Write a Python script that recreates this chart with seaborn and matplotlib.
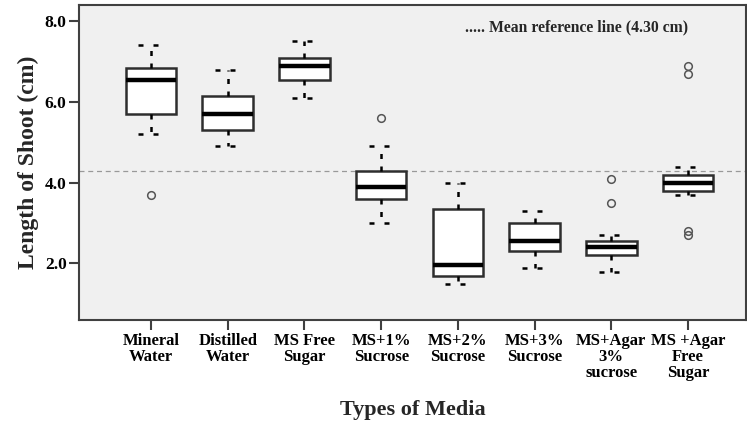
import matplotlib
matplotlib.use("Agg")
import matplotlib.pyplot as plt
import seaborn as sns

# ---- data ----
media = ["Mineral\nWater", "Distilled\nWater", "MS Free\nSugar", "MS+1%\nSucrose",
         "MS+2%\nSucrose", "MS+3%\nSucrose", "MS+Agar\n3%\nsucrose", "MS +Agar\nFree\nSugar"]
whisker_low = [5.2, 4.9, 6.1, 3.0, 1.5, 1.9, 1.8, 3.7]
q1 = [5.7, 5.3, 6.55, 3.6, 1.7, 2.3, 2.2, 3.8]
median = [6.55, 5.7, 6.9, 3.9, 1.95, 2.55, 2.4, 4.0]
q3 = [6.85, 6.15, 7.1, 4.3, 3.35, 3.0, 2.55, 4.2]
whisker_high = [7.4, 6.8, 7.5, 4.9, 4.0, 3.3, 2.7, 4.4]
outliers = [[3.7], [], [], [5.6], [], [], [3.5, 4.1], [2.7, 2.8, 6.7, 6.9]]
mean_ref = 4.30
y_ticks = [2.0, 4.0, 6.0, 8.0]

sns.set_theme(style="ticks")
plt.rcParams["font.family"] = ["Liberation Serif", "DejaVu Serif"]
plt.rcParams["font.weight"] = "bold"

fig = plt.figure(figsize=(7.47, 4.23), dpi=100)
ax = fig.add_axes([79 / 747, 103 / 423, 668 / 747 - 0.001, 315 / 423])
ax.set_facecolor("#F0F0F0")

stats = []
for i in range(len(media)):
    stats.append(dict(whislo=whisker_low[i], q1=q1[i], med=median[i], q3=q3[i],
                      whishi=whisker_high[i], fliers=outliers[i], label=media[i]))

ax.bxp(stats, positions=list(range(len(media))), widths=0.66, patch_artist=True,
       boxprops=dict(facecolor="white", edgecolor="#2e2e2e", linewidth=1.8),
       medianprops=dict(color="black", linewidth=3.2),
       whiskerprops=dict(color="black", linewidth=1.8, linestyle=(0, (2, 3))),
       capprops=dict(color="black", linewidth=1.8, linestyle=(0, (2, 4))),
       capwidths=0.33,
       flierprops=dict(marker="o", markerfacecolor="none", markeredgecolor="#555555",
                       markersize=5.5, markeredgewidth=1.1, linestyle="none"))

ax.axhline(mean_ref, color="#999999", linewidth=0.9, linestyle=(0, (4, 3)), zorder=0.5)
ax.text(0.745, 0.93, "..... Mean reference line (4.30 cm)", transform=ax.transAxes,
        ha="center", va="center", fontsize=11.3, fontweight="bold")

ax.set_xlim(-0.94, 7.76)
ax.set_ylim(0.6, 8.4)
ax.set_yticks(y_ticks)
ax.set_yticklabels([f"{v:.1f}" for v in y_ticks], fontsize=12.5, fontweight="bold")
ax.set_xticks(range(len(media)))
ax.set_xticklabels(media, fontsize=12, fontweight="bold", linespacing=1.0)

for s in ax.spines.values():
    s.set_color("#404040")
    s.set_linewidth(1.5)
ax.tick_params(axis="both", direction="out", length=7.5, width=1.5, color="#404040",
               pad=1.5, labelcolor="black")

ax.set_ylabel("Length of Shoot (cm)", fontsize=17, fontweight="bold", labelpad=4)
ax.set_xlabel("Types of Media", fontsize=16, fontweight="bold")
ax.xaxis.set_label_coords(0.5, -(400 - 320) / 315)

fig.savefig("out.png", dpi=100, facecolor="white")
